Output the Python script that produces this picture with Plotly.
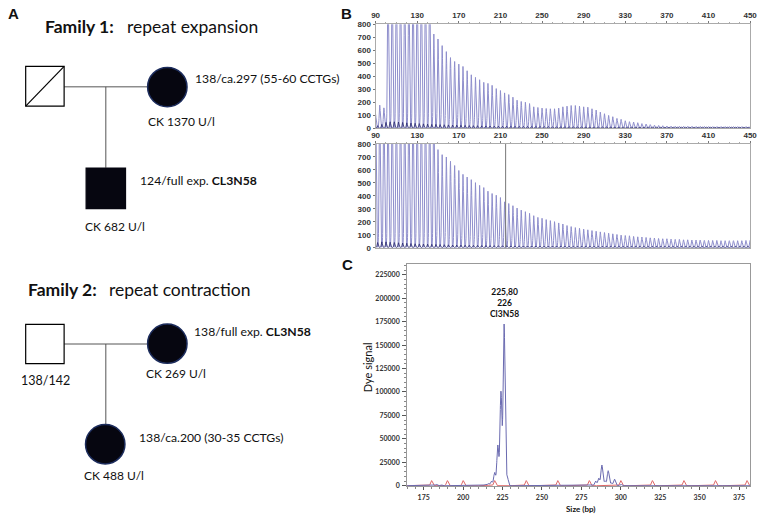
import numpy as np
import plotly.graph_objects as go

# ---------------- DATA ----------------
# Panel B: CCTG repeat peaks (bp) and heights (RFU); peaks above 800 are off-scale
b_pos = list(range(90, 451, 4))
b_top_main = [107, 178, 157,
              1200, 1200, 1200, 1200, 1200, 1200, 1200, 1200, 1200, 1200, 1200,
              724, 686, 635, 589, 543, 513, 493, 475, 442, 411,
              391, 373, 353, 345, 330, 305, 290, 272, 259, 239,
              216, 206, 200, 190, 165, 160, 155, 152, 150, 150,
              155, 165, 170, 175, 175, 170, 165, 162, 150, 140,
              124, 112, 99, 89, 76, 69, 58, 51, 48, 43,
              36, 33, 28,
              24, 22, 20, 18, 17, 16, 16, 15, 15, 15,
              14, 14, 14, 14, 13, 13, 13, 13, 13, 13,
              13, 13, 13, 13]
b_bot_main = [1200] * 15 + [
              757, 718, 700, 667, 634, 596, 566, 545, 525, 502,
              481, 464, 436, 418, 405, 387, 354, 341, 324, 306,
              290, 278, 265, 247, 234, 227, 217, 209, 201, 191,
              183, 171, 163, 155, 150, 143, 138, 132, 127, 122,
              117, 112, 107, 102, 97, 94, 92, 87, 84, 82,
              79, 76, 74, 71, 69, 69, 66, 64, 64, 61,
              61, 59, 59, 59, 56, 56, 56, 56, 54, 54,
              54, 54, 54, 54, 56, 56]
b_minor_pos = list(range(92, 449, 4))
b_top_minor = [20, 30, 45, 50, 50, 48, 45, 42, 40, 38,
               36, 34, 32, 30, 30, 28, 27, 26, 25, 24,
               23, 22, 21, 20, 20, 19, 18, 18, 17, 17,
               16, 16, 15, 15, 15, 14, 14, 14, 13, 13,
               13, 13, 12, 12, 12, 12, 12, 12, 12, 12,
               11, 11, 11, 11, 11, 11, 11, 10, 10, 10] + [10] * 30
b_bot_minor = [40, 45, 45, 42, 40, 38, 36, 34, 32, 30,
               29, 28, 27, 26, 25, 24, 23, 22, 21, 20,
               20, 19, 19, 18, 18, 17, 17, 16, 16, 15,
               15, 15, 14, 14, 14, 13, 13, 13, 13, 12,
               12, 12, 12, 12, 12, 12, 11, 11, 11, 11,
               11, 11, 11, 11, 10, 10, 10, 10, 10, 10] + [10] * 30
b_cursor_bp = 215
b_xticks = list(range(90, 451, 40))
b_yticks = list(range(0, 801, 100))

# Panel C: capillary electrophoresis peaks
c_pos = [183, 186, 214, 216, 218, 220, 222, 224, 226, 228,
         284, 286, 288, 290, 292, 294, 296, 300]
c_height = [1500, 1200, 1500, 2500, 5000, 14000, 43000, 100000, 172000, 10000,
            5000, 8000, 22000, 5000, 16000, 3000, 7000, 1500]
c_std_pos = [180, 190, 200, 220, 240, 260, 280, 300, 320, 340, 360, 380]
c_std_height = [5500] * 12
c_xticks = list(range(175, 376, 25))
c_yticks = list(range(0, 225001, 25000))
c_peak_label = "225,80<br>226<br>Cl3N58"
c_peak_bp = 226

# ---------------- HELPERS ----------------
W, H = 765, 519


def px(x):
    return x / W


def py(y):
    return 1 - y / H


def curve(grid, pos, hts, sigma):
    y = np.zeros_like(grid)
    for p, h in zip(pos, hts):
        y += h * np.exp(-0.5 * ((grid - p) / sigma) ** 2)
    return y


fig = go.Figure()

gB = np.arange(88, 452, 0.08)
LAV = "#8e8ecc"
NAVY = "#2a2a6e"
fig.add_trace(go.Scatter(x=gB, y=curve(gB, b_pos, b_top_main, 0.55), mode="lines",
                         line=dict(color=LAV, width=1), xaxis="x", yaxis="y", hoverinfo="skip"))
fig.add_trace(go.Scatter(x=gB, y=curve(gB, b_minor_pos, b_top_minor, 0.5), mode="lines",
                         line=dict(color=NAVY, width=0.8), xaxis="x", yaxis="y", hoverinfo="skip"))
fig.add_trace(go.Scatter(x=gB, y=curve(gB, b_pos, b_bot_main, 0.55), mode="lines",
                         line=dict(color=LAV, width=1), xaxis="x2", yaxis="y2", hoverinfo="skip"))
fig.add_trace(go.Scatter(x=gB, y=curve(gB, b_minor_pos, b_bot_minor, 0.5), mode="lines",
                         line=dict(color=NAVY, width=0.8), xaxis="x2", yaxis="y2", hoverinfo="skip"))

gC = np.arange(163, 384, 0.05)
fig.add_trace(go.Scatter(x=gC, y=curve(gC, c_std_pos, c_std_height, 0.6), mode="lines",
                         line=dict(color="#dd6666", width=1), xaxis="x3", yaxis="y3", hoverinfo="skip"))
fig.add_trace(go.Scatter(x=gC, y=curve(gC, c_pos, c_height, 0.6), mode="lines",
                         line=dict(color="#6a6ab0", width=1), xaxis="x3", yaxis="y3", hoverinfo="skip"))

tickB = dict(family="Liberation Sans", size=8, color="#333", weight="bold")
tickC = dict(family="Lato", size=7, color="#333", weight="bold")

bx = dict(range=[90, 450], side="top", tickvals=b_xticks, ticks="outside", ticklen=2,
          tickcolor="#777", showline=True, mirror=True, linecolor="#aaa", linewidth=1,
          minor=dict(dtick=10, tick0=90, ticks="outside", ticklen=1, tickcolor="#aaa"),
          showgrid=False, zeroline=False, tickfont=tickB, ticklabelstandoff=0)
by = dict(range=[0, 800], tickvals=b_yticks, ticks="outside", ticklen=2,
          tickcolor="#777", showline=True, mirror=True, linecolor="#aaa", linewidth=1,
          showgrid=False, zeroline=False, tickfont=tickB, ticklabelstandoff=0)

fig.update_layout(
    width=W, height=H, margin=dict(l=0, r=0, t=0, b=0),
    paper_bgcolor="white", plot_bgcolor="white", showlegend=False,
    xaxis=dict(bx, domain=[px(377), px(757)], anchor="y"),
    yaxis=dict(by, domain=[py(126.5), py(20.5)], anchor="x"),
    xaxis2=dict(bx, domain=[px(377), px(757)], anchor="y2"),
    yaxis2=dict(by, domain=[py(248), py(142.5)], anchor="x2"),
    xaxis3=dict(range=[164.5, 382], domain=[px(409), px(757)], anchor="y3",
                tickvals=c_xticks, ticks="outside", ticklen=3, tickcolor="#555",
                minor=dict(dtick=5, tick0=165, ticks="outside", ticklen=2, tickcolor="#888"),
                showline=True, mirror=True, linecolor="#999", showgrid=False, zeroline=False,
                tickfont=tickC, ticklabelstandoff=1),
    yaxis3=dict(range=[-800, 236000], domain=[py(491), py(265)], anchor="x3",
                tickvals=c_yticks, tickformat="d", ticks="outside", ticklen=4, tickcolor="#555",
                minor=dict(dtick=5000, ticks="outside", ticklen=2, tickcolor="#888"),
                showline=True, mirror=True, linecolor="#999", showgrid=False, zeroline=False,
                tickfont=tickC, ticklabelstandoff=1),
)

# cursor line in lower panel B
fig.add_shape(type="line", xref="x2", yref="y2", x0=b_cursor_bp, x1=b_cursor_bp, y0=0, y1=800,
              line=dict(color="#777", width=1))

# ---------------- PEDIGREES (panel A) ----------------
BLACK = "#060610"
EDGE = "#1c2c5c"
LINE = "#555"


def rect(x0, y0, x1, y1, fill="white", color="black", w=1.2):
    fig.add_shape(type="rect", xref="paper", yref="paper", x0=px(x0), x1=px(x1),
                  y0=py(y1), y1=py(y0), fillcolor=fill, line=dict(color=color, width=w))


def circ(cx, cy, r):
    fig.add_shape(type="circle", xref="paper", yref="paper", x0=px(cx - r), x1=px(cx + r),
                  y0=py(cy + r), y1=py(cy - r), fillcolor=BLACK, line=dict(color=EDGE, width=1.5))


def seg(x0, y0, x1, y1, color=LINE, w=1):
    fig.add_shape(type="line", xref="paper", yref="paper", x0=px(x0), x1=px(x1),
                  y0=py(y0), y1=py(y1), line=dict(color=color, width=w))


def txt(x, y, s, size=12.2, anchor="left", bold=False, family="Lato", angle=0):
    # small correction for annotation padding
    dx = -2 if anchor == "left" else 0
    fig.add_annotation(x=px(x + dx), y=py(y - 2), xref="paper", yref="paper", text=s,
                       showarrow=False, xanchor=anchor, yanchor="middle", textangle=angle,
                       font=dict(family=family, size=size, color="#111",
                                 weight="bold" if bold else "normal"))


# Family 1
seg(61, 84.3, 146, 84.3)
seg(103.3, 84.3, 103.3, 166.7)
rect(22, 63.5, 61, 104)
seg(22, 104, 61, 63.5, color="black", w=1.2)
circ(165.7, 84.5, 20)
rect(83.3, 167, 123.3, 208.3, fill=BLACK, color=BLACK)

# Family 2
seg(61, 346, 146, 346)
seg(103.3, 346, 103.3, 428)
rect(22, 326, 61, 366)
circ(165.7, 345.7, 20)
circ(102.7, 448, 20)

# Panel letters
txt(4, 12, "A", size=15, bold=True, family="Liberation Sans")
txt(342, 12, "B", size=15, bold=True, family="Liberation Sans")
txt(343, 267, "C", size=15, bold=True, family="Liberation Sans")

# Family headings
txt(42, 25, "Family 1:", size=17.5, bold=True)
txt(125, 25, "repeat expansion", size=17.5)
txt(24, 293, "Family 2:", size=17.5, bold=True)
txt(107, 293, "repeat contraction", size=17.5)

# Pedigree labels
txt(194, 78, "138/ca.297 (55-60 CCTGs)")
txt(146, 122, "CK 1370 U/l", size=12)
txt(138, 182, "124/full exp. <b>CL3N58</b>")
txt(82, 228, "CK 682 U/l", size=12)
txt(193, 335, "138/full exp. <b>CL3N58</b>")
txt(144, 378, "CK 269 U/l", size=12)
txt(17, 385, "138/142", size=12.5)
txt(137, 443, "138/ca.200 (30-35 CCTGs)")
txt(81, 482, "CK 488 U/l", size=12)

# Panel C labels
fig.add_annotation(x=c_peak_bp, y=176000, xref="x3", yref="y3", text=c_peak_label,
                   showarrow=False, xanchor="center", yanchor="bottom",
                   font=dict(family="Lato", size=8.5, color="#111", weight="bold"))
txt(369, 372, "Dye signal", size=11, anchor="center", angle=-90)
txt(585, 515.5, "Size (bp)", size=8, anchor="center", bold=True)

fig.write_html(
    "out.html",
    config={"displayModeBar": False},
    post_script="document.body.style.margin='0';document.body.style.overflow='hidden';"
                "document.documentElement.style.overflow='hidden';",
)
